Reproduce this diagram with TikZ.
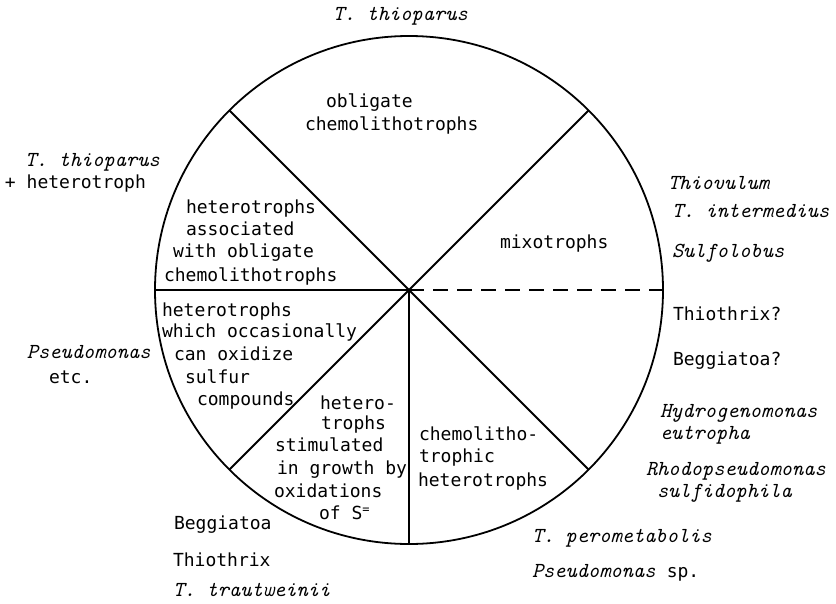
\documentclass[tikz,border=0pt]{standalone}
\usepackage{fontspec}
\newfontfamily\typew{DejaVu Sans Mono}
\newcommand\twfont{\typew\upshape\fontsize{18}{22}\selectfont}
\newcommand\itfont{\ttfamily\itshape\fontsize{21.4}{24}\selectfont}
\tikzset{
  tw/.style={font=\twfont, inner sep=0pt, outer sep=0pt, anchor=base west},
  itl/.style={font=\itfont, inner sep=0pt, outer sep=0pt, anchor=base west},
  ln/.style={line width=1.8pt},
  dashln/.style={line width=1.8pt, dash pattern=on 15pt off 9pt},
}
\begin{document}
\begin{tikzpicture}[x=1pt,y=-1pt]
\useasboundingbox[fill=white] (0,0) rectangle (836,603);
% circle and sectors
\node[draw, ln, circle, minimum size=508pt, inner sep=0pt, outer sep=0pt] (circ) at (409,290) {};
\coordinate (ctr) at (circ.center);
\draw[ln] (ctr) -- (circ.45);
\draw[ln] (ctr) -- (circ.135);
\draw[ln] (ctr) -- (circ.180);
\draw[ln] (ctr) -- (circ.225);
\draw[ln] (ctr) -- (circ.270);
\draw[ln] (ctr) -- (circ.315);
\draw[dashln] (ctr) -- (circ.0);
% sector texts
\node[tw] (a1) at (326,107) {obligate};
\node[tw] (a2) at (305,130) {chemolithotrophs};
\node[tw] (b1) at (186,213) {heterotrophs};
\node[tw] (b2) at (186,235) {associated};
\node[tw] (b3) at (173,257) {with obligate};
\node[tw] (b4) at (164,281) {chemolithotrophs};
\node[tw] (m1) at (500,248) {mixotrophs};
\node[tw] (c1) at (162,316) {heterotrophs};
\node[tw] (c2) at (162,337) {which occasionally};
\node[tw] (c3) at (174,360) {can oxidize};
\node[tw] (c4) at (185,383) {sulfur};
\node[tw] (c5) at (197,405) {compounds};
\node[tw] (d1) at (320,409) {hetero-};
\node[tw] (d2) at (321,429) {trophs};
\node[tw] (d3) at (275,451) {stimulated};
\node[tw] (d4) at (277,474) {in growth by};
\node[tw] (d5) at (274,497) {oxidations};
\node[tw] (d6) at (319,519) {of S\raisebox{6pt}{\fontsize{12}{12}\selectfont =}};
\node[tw] (e1) at (419,440) {chemolitho-};
\node[tw] (e2) at (419,462) {trophic};
\node[tw] (e3) at (418,486) {heterotrophs};
% outside labels
\node[itl] (o1) at (333,20) {T. thioparus};
\node[itl] (o2) at (25,166) {T. thioparus};
\node[tw] (o3) at (5,188) {+ heterotroph};
\node[itl] (o4) at (27,358) {Pseudomonas};
\node[tw] (o5) at (49,383) {etc.};
\node[itl] (r1) at (668,189) {Thiovulum};
\node[itl] (r2) at (672,217) {T. intermedius};
\node[itl] (r3) at (672,257) {Sulfolobus};
\node[tw] (r4) at (673,320) {Thiothrix?};
\node[tw] (r5) at (673,365) {Beggiatoa?};
\node[itl] (r6) at (660,417) {Hydrogenomonas};
\node[itl] (r7) at (660,439) {eutropha};
\node[itl] (r8) at (646,475) {Rhodopseudomonas};
\node[itl] (r9) at (657,497) {sulfidophila};
\node[itl] (p1) at (532,542) {T. perometabolis};
\node[itl] (p2) at (532,577) {Pseudomonas {\twfont sp.}};
\node[tw] (l1) at (174,529) {Beggiatoa};
\node[tw] (l2) at (173,566) {Thiothrix};
\node[itl] (l3) at (173,596) {T. trautweinii};
\end{tikzpicture}
\end{document}
